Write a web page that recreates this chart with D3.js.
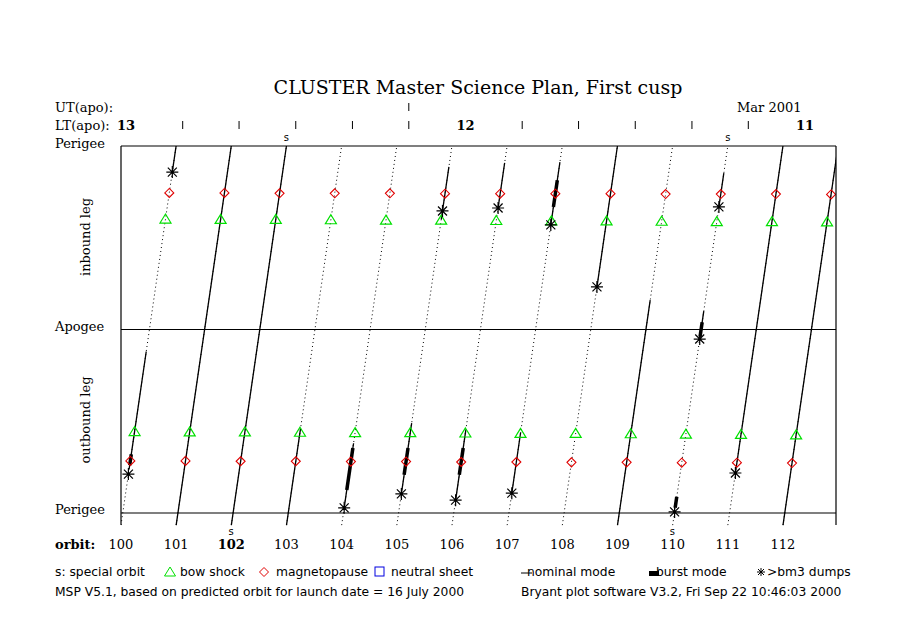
<!DOCTYPE html>
<html>
<head>
<meta charset="utf-8">
<script src="https://cdn.jsdelivr.net/npm/d3@7"></script>
<style>
body { margin: 0; background: #fff; }
.serif { font-family: "DejaVu Serif", "Liberation Serif", serif; }
.sans { font-family: "DejaVu Sans", "Liberation Sans", sans-serif; }
</style>
</head>
<body>
<div id="viewportContainer"></div>
<script>
/* --- データセット --- */
const orbits = [100, 101, 102, 103, 104, 105, 106, 107, 108, 109, 110, 111, 112];
const specialOrbits = [102, 110];

// 軌道位相 (0 = perigee, 0.5 = apogee, 1 = next perigee)
const bowShockOut = [0.222, 0.221, 0.221, 0.220, 0.219, 0.219, 0.218, 0.217, 0.217, 0.216, 0.215, 0.214, 0.213];
const magnetopauseOut = [0.142, 0.142, 0.141, 0.141, 0.140, 0.140, 0.139, 0.139, 0.138, 0.138, 0.137, 0.137, 0.136];
const magnetopauseIn = [0.872, 0.872, 0.871, 0.871, 0.871, 0.870, 0.870, 0.870, 0.870, 0.869, 0.869, 0.869, 0.868];
const bowShockIn = [0.801, 0.800, 0.800, 0.799, 0.798, 0.798, 0.797, 0.796, 0.796, 0.795, 0.794, 0.794, 0.793];

// nominal mode 区間 [orbit, from, to]
const nominalSegments = [
    [100, 0.12, 0.44], [100, 0.93, 1.0],
    [101, -0.033, 1.0], [102, -0.033, 1.0],
    [103, -0.033, 0.23],
    [104, 0.014, 0.19],
    [105, 0.052, 0.245], [105, 0.80, 0.943],
    [106, 0.035, 0.226], [106, 0.831, 0.954],
    [107, 0.054, 0.22], [107, 0.785, 0.956],
    [108, 0.616, 1.0],
    [109, -0.033, 0.58],
    [110, 0.474, 0.55], [110, 0.834, 0.926],
    [111, 0.109, 1.0],
    [112, -0.033, 1.0]
];

// burst mode 区間
const burstSegments = [
    [100, 0.13, 0.16], [104, 0.063, 0.177], [105, 0.104, 0.177],
    [106, 0.104, 0.177], [107, 0.834, 0.907], [110, 0.014, 0.044], [110, 0.48, 0.52]
];

// bm3 dumps
const dumps = [
    [100, 0.106], [100, 0.929], [104, 0.014], [105, 0.052], [105, 0.823],
    [106, 0.035], [106, 0.831], [107, 0.054], [107, 0.785], [108, 0.616],
    [110, 0.003], [110, 0.474], [110, 0.834], [111, 0.109]
];

// LT 目盛り
const ltTicks = [13, 12.833, 12.667, 12.5, 12.333, 12.167, 12, 11.833, 11.667, 11.5, 11.333, 11.167, 11];
const ltLabels = [13, 12, 11];
const utTick = 12.167;



/*--- スケール ---*/
const xScale = d3.scaleLinear().domain([100, 112]).range([121, 783]);
const yScale = d3.scaleLinear().domain([0, 1]).range([513, 146]);
const ltScale = d3.scaleLinear().domain([13, 11]).range([126, 805]);
const phaseStart = -0.033;

// 軌道上の位置
const px = function(orbit, t) { return xScale(orbit + (t - phaseStart) * 0.967); };
const py = function(t) { return yScale(t); };



/*--- SVG作成 ---*/
const svg = d3.select("#viewportContainer").append("svg")
    .attr("width", 900).attr("height", 630);

svg.append("defs").append("clipPath").attr("id", "plotClip")
    .append("rect").attr("x", 121).attr("y", 146).attr("width", 715).attr("height", 380);

const chart = svg.append("g").attr("clip-path", "url(#plotClip)");



/*--- タイトル・ラベル ---*/
svg.append("text").attr("class", "serif").attr("x", 478).attr("y", 94)
    .attr("text-anchor", "middle").attr("font-size", 19)
    .text("CLUSTER Master Science Plan, First cusp");

const lab = svg.append("g").attr("class", "serif").attr("font-size", 13);
lab.append("text").attr("x", 55).attr("y", 112).text("UT(apo):");
lab.append("text").attr("x", 55).attr("y", 130).text("LT(apo):");
lab.append("text").attr("x", 737).attr("y", 112).text("Mar 2001");
lab.append("text").attr("x", 55).attr("y", 148).text("Perigee");
lab.append("text").attr("x", 55).attr("y", 331).text("Apogee");
lab.append("text").attr("x", 55).attr("y", 514).text("Perigee");
lab.append("text").attr("x", 55).attr("y", 549).attr("font-weight", "bold").text("orbit:");
lab.append("text").attr("transform", "translate(90,237) rotate(-90)")
    .attr("text-anchor", "middle").text("inbound leg");
lab.append("text").attr("transform", "translate(90,420) rotate(-90)")
    .attr("text-anchor", "middle").text("outbound leg");



/*--- LT 目盛り ---*/
svg.append("g").selectAll("line").data(ltTicks.filter(function(d) { return ltLabels.indexOf(d) < 0; }))
    .enter().append("line")
    .attr("x1", function(d) { return ltScale(d); }).attr("x2", function(d) { return ltScale(d); })
    .attr("y1", 121).attr("y2", 129).attr("stroke", "#000");

svg.append("line").attr("x1", ltScale(utTick)).attr("x2", ltScale(utTick))
    .attr("y1", 103).attr("y2", 111).attr("stroke", "#000");

lab.selectAll(".lt").data(ltLabels).enter().append("text")
    .attr("class", "lt").attr("font-weight", "bold")
    .attr("x", function(d) { return ltScale(d); }).attr("y", 130)
    .attr("text-anchor", "middle")
    .text(function(d) { return d; });



/*--- 枠 ---*/
const frame = svg.append("g").attr("stroke", "#000").attr("stroke-width", 1.2);
frame.append("line").attr("x1", 121).attr("x2", 836).attr("y1", 146).attr("y2", 146);
frame.append("line").attr("x1", 121).attr("x2", 836).attr("y1", yScale(0.5)).attr("y2", yScale(0.5));
frame.append("line").attr("x1", 121).attr("x2", 836).attr("y1", yScale(0)).attr("y2", yScale(0));
frame.append("line").attr("x1", 121).attr("x2", 121).attr("y1", 146).attr("y2", 525);
frame.append("line").attr("x1", 836).attr("x2", 836).attr("y1", 146).attr("y2", 525);



/*--- 軌道ライン ---*/
chart.selectAll(".dotted").data(orbits).enter().append("line")
    .attr("x1", function(d) { return px(d, phaseStart); }).attr("y1", py(phaseStart))
    .attr("x2", function(d) { return px(d, 1); }).attr("y2", py(1))
    .attr("stroke", "#000").attr("stroke-width", 1).attr("stroke-dasharray", "1,3");

chart.selectAll(".nominal").data(nominalSegments).enter().append("line")
    .attr("x1", function(d) { return px(d[0], d[1]); }).attr("y1", function(d) { return py(d[1]); })
    .attr("x2", function(d) { return px(d[0], d[2]); }).attr("y2", function(d) { return py(d[2]); })
    .attr("stroke", "#000").attr("stroke-width", 1.3);

chart.selectAll(".burst").data(burstSegments).enter().append("line")
    .attr("x1", function(d) { return px(d[0], d[1]); }).attr("y1", function(d) { return py(d[1]); })
    .attr("x2", function(d) { return px(d[0], d[2]); }).attr("y2", function(d) { return py(d[2]); })
    .attr("stroke", "#000").attr("stroke-width", 3.5);



/*--- マーカー ---*/
const triPath = "M0,-5L5.5,4L-5.5,4Z";
const diaPath = "M0,-4.5L4.5,0L0,4.5L-4.5,0Z";
const starPath = "M0,-6V6M-6,0H6M-4.5,-4.5L4.5,4.5M-4.5,4.5L4.5,-4.5";

[bowShockOut, bowShockIn].forEach(function(arr) {
    chart.append("g").selectAll("path").data(orbits).enter().append("path")
        .attr("d", triPath).attr("fill", "none").attr("stroke", "#00e000").attr("stroke-width", 1.2)
        .attr("transform", function(d, i) { return "translate(" + px(d, arr[i]) + "," + py(arr[i]) + ")"; });
});

[magnetopauseOut, magnetopauseIn].forEach(function(arr) {
    chart.append("g").selectAll("path").data(orbits).enter().append("path")
        .attr("d", diaPath).attr("fill", "none").attr("stroke", "#e00000").attr("stroke-width", 1.1)
        .attr("transform", function(d, i) { return "translate(" + px(d, arr[i]) + "," + py(arr[i]) + ")"; });
});

chart.append("g").selectAll("path").data(dumps).enter().append("path")
    .attr("d", starPath).attr("stroke", "#000").attr("stroke-width", 1.2)
    .attr("transform", function(d) { return "translate(" + px(d[0], d[1]) + "," + py(d[1]) + ")"; });



/*--- 軌道番号 ---*/
lab.selectAll(".orb").data(orbits).enter().append("text")
    .attr("x", function(d) { return xScale(d); }).attr("y", 549)
    .attr("text-anchor", "middle")
    .attr("font-weight", function(d) { return d === 102 ? "bold" : "normal"; })
    .text(function(d) { return d; });

// special orbit の "s"
const sLab = svg.append("g").attr("class", "sans").attr("font-size", 10).attr("text-anchor", "middle");
sLab.selectAll(".sb").data(specialOrbits).enter().append("text")
    .attr("x", function(d) { return px(d, 0) - 2; }).attr("y", 535).text("s");
sLab.selectAll(".st").data(specialOrbits).enter().append("text")
    .attr("x", function(d) { return px(d, 1); }).attr("y", 141).text("s");



/*--- 凡例 ---*/
const leg = svg.append("g").attr("class", "sans").attr("font-size", 12.3);
leg.append("text").attr("x", 55).attr("y", 576).text("s: special orbit");
leg.append("path").attr("d", triPath).attr("fill", "none").attr("stroke", "#00e000")
    .attr("transform", "translate(170,572)");
leg.append("text").attr("x", 180).attr("y", 576).text("bow shock");
leg.append("path").attr("d", diaPath).attr("fill", "none").attr("stroke", "#e00000")
    .attr("transform", "translate(264,572)");
leg.append("text").attr("x", 276).attr("y", 576).text("magnetopause");
leg.append("rect").attr("x", 375).attr("y", 567).attr("width", 9).attr("height", 9)
    .attr("fill", "none").attr("stroke", "#0000e0");
leg.append("text").attr("x", 391).attr("y", 576).text("neutral sheet");
leg.append("line").attr("x1", 521).attr("x2", 532).attr("y1", 573).attr("y2", 573).attr("stroke", "#000");
leg.append("text").attr("x", 527).attr("y", 576).text("nominal mode");
leg.append("rect").attr("x", 649).attr("y", 571).attr("width", 10).attr("height", 5).attr("fill", "#000");
leg.append("text").attr("x", 656).attr("y", 576).text("burst mode");
leg.append("path").attr("d", "M0,-4V4M-4,0H4M-3,-3L3,3M-3,3L3,-3").attr("stroke", "#000")
    .attr("transform", "translate(761,572)");
leg.append("text").attr("x", 767).attr("y", 576).text(">bm3 dumps");

leg.append("text").attr("x", 55).attr("y", 596).text("MSP V5.1, based on predicted orbit for launch date = 16 July 2000");
leg.append("text").attr("x", 521).attr("y", 596).text("Bryant plot software V3.2, Fri Sep 22 10:46:03 2000");
</script>
</body>
</html>
